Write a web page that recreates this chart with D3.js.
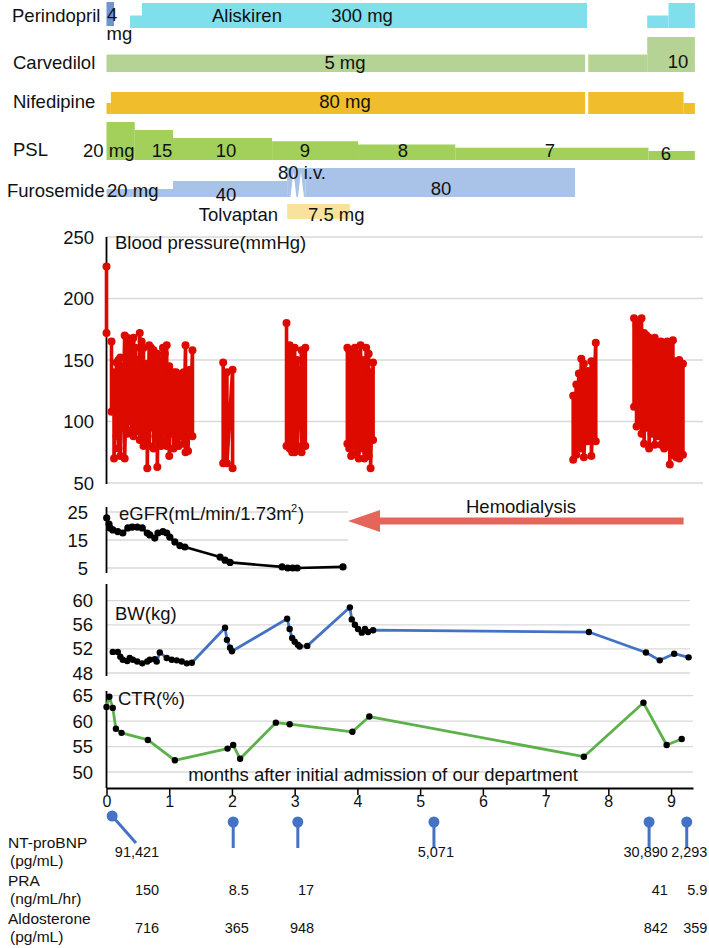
<!DOCTYPE html>
<html>
<head>
<meta charset="utf-8">
<script src="https://cdn.jsdelivr.net/npm/d3@7"></script>
<style>
  body { margin: 0; background: #fff; }
  svg { display: block; font-family: "Liberation Sans", Arial, Helvetica, sans-serif; }
</style>
</head>
<body>
<svg id="chart" width="709" height="948"></svg>
<script>
// ---- medication bars: [start month, end month, dose]
const perindopril = [[0, 0.12, 4]];
const aliskiren = [[0.375, 0.566, 150], [0.566, 7.66, 300], [8.62, 8.96, 150], [8.96, 9.38, 300]];
const carvedilol = [[0, 7.63, 5], [7.68, 8.62, 5], [8.62, 9.38, 10]];
const nifedipine = [[0, 0.07, 40], [0.07, 7.63, 80], [7.68, 9.2, 80], [9.2, 9.38, 40]];
const psl = [[0, 0.45, 20], [0.45, 1.06, 15], [1.06, 2.64, 10], [2.64, 4.01, 9], [4.01, 5.56, 8], [5.56, 8.64, 7], [8.64, 9.38, 6]];
const furosemide = [[0, 1.06, 20], [1.06, 2.88, 40], [2.88, 3.17, 80], [3.17, 7.47, 80]];
const furosemideIV = [2.98, 3.1];
const tolvaptan = [[2.88, 3.88, 7.5]];

// ---- blood pressure: [month, systolic, diastolic]
const bpAdmission = [[0.0, 226, 172]];
const bpCluster1 = [
  [0.08, 165, 108], [0.12, 140, 70], [0.16, 148, 88], [0.19, 150, 78], [0.22, 152, 72],
  [0.26, 145, 95], [0.29, 170, 70], [0.33, 168, 90], [0.36, 160, 100], [0.40, 165, 93],
  [0.43, 168, 88], [0.46, 160, 95], [0.50, 150, 92], [0.53, 172, 85], [0.56, 165, 90],
  [0.59, 160, 80], [0.62, 145, 82], [0.65, 147, 62], [0.68, 162, 80], [0.71, 160, 95],
  [0.75, 158, 78], [0.78, 150, 88], [0.81, 155, 63], [0.84, 148, 85], [0.87, 150, 80],
  [0.90, 160, 85], [0.93, 155, 92], [0.96, 162, 80], [1.00, 145, 72], [1.03, 140, 90],
  [1.07, 140, 78], [1.11, 140, 85], [1.15, 138, 80], [1.19, 136, 88], [1.23, 140, 82],
  [1.26, 162, 75], [1.30, 140, 76], [1.33, 142, 90], [1.37, 158, 88]
];
const bpCluster2 = [[1.86, 148, 66], [1.92, 140, 66], [2.01, 142, 62]];
const bpCluster3 = [[2.87, 180, 80], [2.92, 162, 78], [2.96, 158, 75], [3.0, 160, 75], [3.04, 150, 80], [3.11, 158, 75], [3.17, 160, 80]];
const bpCluster4 = [
  [3.84, 160, 82], [3.87, 158, 78], [3.90, 155, 72], [3.93, 150, 80], [3.96, 160, 85],
  [3.99, 155, 75], [4.02, 152, 70], [4.05, 162, 78], [4.08, 148, 80], [4.11, 150, 70],
  [4.14, 160, 75], [4.18, 155, 72], [4.21, 140, 62], [4.25, 148, 85]
];
const bpCluster5 = [[7.44, 121, 69], [7.49, 130, 73], [7.53, 139, 80], [7.57, 151, 78], [7.61, 147, 71], [7.67, 141, 84], [7.73, 149, 72], [7.80, 164, 84]];
const bpCluster6 = [
  [8.41, 184, 112], [8.45, 178, 96], [8.49, 180, 100], [8.53, 184, 90], [8.57, 172, 82],
  [8.61, 170, 95], [8.65, 168, 78], [8.69, 166, 90], [8.74, 168, 81], [8.79, 164, 88],
  [8.84, 165, 81], [8.89, 164, 78], [8.94, 165, 80], [8.98, 164, 65], [9.03, 166, 73],
  [9.08, 149, 71], [9.13, 150, 70], [9.19, 147, 73]
];
const bpClusters = [bpAdmission, bpCluster1, bpCluster2, bpCluster3, bpCluster4, bpCluster5, bpCluster6];
const bpTicks = [50, 100, 150, 200, 250];

// ---- eGFR [month, value]
const egfr = [
  [0.003, 22.9], [0.04, 20.7], [0.056, 19.3], [0.10, 18.6], [0.18, 18], [0.26, 17.5],
  [0.34, 19.3], [0.41, 19.6], [0.49, 19.6], [0.57, 19.3], [0.65, 17.5], [0.69, 16.8],
  [0.77, 15.7], [0.82, 17.5], [0.90, 18], [0.96, 17.5], [1.01, 16], [1.09, 14.3],
  [1.17, 13], [1.25, 12.5], [1.81, 8.9], [1.89, 7.8], [1.97, 7], [2.80, 5.4],
  [2.89, 5.0], [2.97, 5.0], [3.04, 5.0], [3.77, 5.4]
];
const egfrTicks = [5, 15, 25];

// ---- body weight [month, kg]
const bw = [
  [0.10, 51.5], [0.18, 51.5], [0.22, 50.7], [0.26, 50.2], [0.33, 50.0], [0.37, 50.5],
  [0.42, 50.2], [0.49, 49.9], [0.57, 49.6], [0.65, 49.9], [0.69, 50.2], [0.77, 50.3],
  [0.80, 49.9], [0.85, 51.4], [0.96, 50.5], [1.04, 50.2], [1.12, 50.1], [1.20, 49.9],
  [1.28, 49.6], [1.36, 49.7], [1.89, 55.5], [1.92, 53.5], [1.97, 52.2], [2.0, 51.6],
  [2.88, 57.0], [2.92, 55.3], [2.96, 53.8], [3.0, 53.2], [3.05, 52.7], [3.08, 52.4],
  [3.20, 52.5], [3.88, 58.9], [3.91, 56.9], [3.96, 56.0], [4.01, 55.3], [4.07, 54.7],
  [4.12, 55.3], [4.17, 54.8], [4.25, 55.1], [7.69, 54.8], [8.60, 51.4], [8.82, 50.1],
  [9.05, 51.2], [9.28, 50.6]
];
const bwTicks = [48, 52, 56, 60];

// ---- CTR [month, %]
const ctr = [
  [0.0, 62.8], [0.045, 64.8], [0.10, 62.6], [0.15, 58.5], [0.24, 57.7], [0.66, 56.3],
  [1.09, 52.3], [1.93, 54.6], [2.02, 55.3], [2.13, 52.6], [2.70, 59.7], [2.92, 59.4],
  [3.92, 57.9], [4.19, 60.9], [7.61, 53.0], [8.56, 63.6], [8.93, 55.3], [9.17, 56.5]
];
const ctrTicks = [50, 55, 60, 65];

const monthTicks = [0, 1, 2, 3, 4, 5, 6, 7, 8, 9];

// ---- lab values
const labDot = [0.09, 2.02, 3.05, 5.22, 8.65, 9.25];
const labStemEnd = [0.47, 2.02, 3.05, 5.22, 8.65, 9.25];
const labCol = [0.84, 2.27, 3.31, 5.54, 8.95, 9.58];
const ntprobnp = ["91,421", "", "", "5,071", "30,890", "2,293"];
const pra = ["150", "8.5", "17", "", "41", "5.9"];
const aldosterone = ["716", "365", "948", "", "842", "359"];

// ================= drawing
const svg = d3.select("#chart");
svg.append("rect").attr("width", 709).attr("height", 948).attr("fill", "#fff");

const x = d3.scaleLinear().domain([0, 9.35]).range([106.5, 693]);

function text(t, px, py, size, anchor) {
  return svg.append("text")
    .attr("x", px).attr("y", py)
    .attr("font-size", size || 18.5)
    .attr("text-anchor", anchor || "start")
    .attr("fill", "#111")
    .text(t);
}

function steps(segs, base, h, color) {
  svg.append("g").selectAll("rect").data(segs).join("rect")
    .attr("x", d => x(d[0]))
    .attr("width", d => x(d[1]) - x(d[0]))
    .attr("y", d => base - h(d[2]))
    .attr("height", d => h(d[2]))
    .attr("fill", color);
}

// medication rows
steps(aliskiren, 28, d3.scaleLinear([0, 300], [0, 25]), "#7fdfec");
steps(perindopril, 26, d3.scaleLinear([0, 4], [0, 24]), "#6f93d6");
steps(carvedilol, 72, d3.scaleLinear([0, 10], [0, 35]), "#b5d395");
steps(nifedipine, 114, d3.scaleLinear([0, 80], [0, 22]), "#f0be2c");
steps(psl, 160, d3.scaleLinear([0, 6, 10, 20], [0, 9, 22, 38]), "#a2d05a");
const furoH = d3.scaleLinear([0, 20, 40, 80], [0, 8, 16, 29]);
steps(furosemide, 197, furoH, "#a9c2e7");
svg.append("g").selectAll("path").data(furosemideIV).join("path")
  .attr("d", d => `M${x(d) - 3},197 L${x(d)},${197 - furoH(80) + 4} L${x(d) + 3},197 Z`)
  .attr("fill", "#fff");
steps(tolvaptan, 219, d3.scaleLinear([0, 7.5], [0, 15]), "#f9e29d");

text("Perindopril", 12, 22);
text("4", x(0) + 0.5, 21);
text("mg", x(0), 40);
text("Aliskiren", 247, 22, 18.5, "middle");
text("300 mg", 362, 22, 18.5, "middle");
text("Carvedilol", 13, 69);
text("5 mg", 345, 69, 18.5, "middle");
text("10", 678, 68, 18.5, "middle");
text("Nifedipine", 13, 108);
text("80 mg", 345, 108, 18.5, "middle");
text("PSL", 13, 156);
text("20 mg", 83, 157);
text("15", 162, 157, 18.5, "middle");
text("10", 226, 157, 18.5, "middle");
text("9", 305, 157, 18.5, "middle");
text("8", 403, 157, 18.5, "middle");
text("7", 550, 157, 18.5, "middle");
text("6", 666, 160, 18.5, "middle");
text("Furosemide", 7, 197);
text("20 mg", 107, 197);
text("40", 226, 201, 18.5, "middle");
text("80 i.v.", 278, 179);
text("80", 441, 195, 18.5, "middle");
text("Tolvaptan", 278, 221, 18.5, "end");
text("7.5 mg", 308, 221);

// ---- panel helper
function panel(y, ticks, gridEnd, tickX, axisTop, axisBottom) {
  const g = svg.append("g");
  g.selectAll("line.grid").data(ticks).join("line")
    .attr("class", "grid")
    .attr("x1", x(0)).attr("x2", gridEnd)
    .attr("y1", d => y(d)).attr("y2", d => y(d))
    .attr("stroke", "#d9d9d9").attr("stroke-width", 1.3);
  g.selectAll("text").data(ticks).join("text")
    .attr("x", tickX).attr("y", d => y(d) + 6.5)
    .attr("text-anchor", "end").attr("font-size", 18.5).attr("fill", "#111")
    .text(d => d);
  g.append("line")
    .attr("x1", x(0)).attr("x2", x(0))
    .attr("y1", axisTop).attr("y2", axisBottom)
    .attr("stroke", "#000").attr("stroke-width", 1.8);
  return g;
}

function series(data, y, color, width, r, dotColor) {
  const line = d3.line().x(d => x(d[0])).y(d => y(d[1]));
  svg.append("path").datum(data).attr("d", line)
    .attr("fill", "none").attr("stroke", color)
    .attr("stroke-width", width).attr("stroke-linejoin", "round");
  svg.append("g").selectAll("circle").data(data).join("circle")
    .attr("cx", d => x(d[0])).attr("cy", d => y(d[1]))
    .attr("r", r).attr("fill", dotColor);
}

// ---- blood pressure
const yBP = d3.scaleLinear().domain([50, 250]).range([483, 237]);
panel(yBP, bpTicks, 703, 94, 237, 484);
text("Blood pressure(mmHg)", 115, 249);
bpClusters.forEach(c => {
  const pts = c.flatMap(d => [[d[0], d[1]], [d[0], d[2]]]);
  series(pts, yBP, "#dd0a00", 3.6, 4, "#dd0a00");
});

// ---- eGFR
const yE = d3.scaleLinear().domain([5, 25]).range([568, 512]);
panel(yE, egfrTicks, x(3.85), 88, 507, 573);
text("eGFR(mL/min/1.73m", 119, 520);
svg.append("text").attr("x", 291).attr("y", 512).attr("font-size", 11).attr("fill", "#111").text("2");
text(")", 298, 520);
series(egfr, yE, "#000", 2.6, 3.6, "#000");

// hemodialysis arrow
const hdFrom = 9.2, hdTo = 3.85, yArrow = 521;
svg.append("path")
  .attr("d", `M${x(hdFrom)},${yArrow - 3.5} L${x(hdTo) + 32},${yArrow - 3.5} L${x(hdTo) + 32},${yArrow - 11} L${x(hdTo)},${yArrow} L${x(hdTo) + 32},${yArrow + 11} L${x(hdTo) + 32},${yArrow + 3.5} L${x(hdFrom)},${yArrow + 3.5} Z`)
  .attr("fill", "#e5655a");
text("Hemodialysis", 521, 513, 18.5, "middle");

// ---- body weight
const yB = d3.scaleLinear().domain([48, 60]).range([673, 600.7]);
panel(yB, bwTicks, 690, 93, 584, 676);
text("BW(kg)", 115, 620);
series(bw, yB, "#4472c4", 2.8, 3.2, "#000");

// ---- CTR
const yC = d3.scaleLinear().domain([50, 65]).range([772, 695.7]);
panel(yC, ctrTicks, 693, 93, 691, 788);
text("CTR(%)", 118, 705);
series(ctr, yC, "#5db14a", 2.8, 3.2, "#000");
text("months after initial admission of our department", 383, 781, 18.5, "middle");

// ---- x axis
const axisY = 788;
const xAxis = svg.append("g").attr("transform", `translate(0,${axisY})`)
  .call(d3.axisBottom(x).tickValues(monthTicks).tickSize(7).tickSizeOuter(0).tickFormat(d3.format("d")));
xAxis.select(".domain").attr("stroke", "#000").attr("stroke-width", 2.2);
xAxis.selectAll(".tick line").attr("stroke", "#000").attr("stroke-width", 1.5);
xAxis.selectAll(".tick text").attr("font-size", 16).attr("fill", "#111")
  .attr("font-family", '"Liberation Sans", Arial, sans-serif').attr("dy", "0.55em");

// ---- lab lollipops
svg.append("g").selectAll("line").data(labDot).join("line")
  .attr("x1", d => x(d)).attr("y1", (d, i) => i === 0 ? 816 : 822)
  .attr("x2", (d, i) => x(labStemEnd[i])).attr("y2", (d, i) => i === 0 ? 843 : 848)
  .attr("stroke", "#4472c4").attr("stroke-width", 3);
svg.append("g").selectAll("circle").data(labDot).join("circle")
  .attr("cx", d => x(d)).attr("cy", (d, i) => i === 0 ? 816 : 822)
  .attr("r", 5.5).attr("fill", "#4472c4");

const labRows = [
  { name: "NT-proBNP", unit: "(pg/mL)", vals: ntprobnp, y: 848 },
  { name: "PRA", unit: "(ng/mL/hr)", vals: pra, y: 886 },
  { name: "Aldosterone", unit: "(pg/mL)", vals: aldosterone, y: 924 }
];
labRows.forEach(r => {
  text(r.name, 8, r.y, 15.5);
  text(r.unit, 10, r.y + 18, 15.5);
  svg.append("g").selectAll("text").data(r.vals).join("text")
    .attr("x", (d, i) => x(labCol[i])).attr("y", r.y + 9)
    .attr("text-anchor", "end").attr("font-size", 14.5).attr("fill", "#111")
    .text(d => d);
});
</script>
</body>
</html>
